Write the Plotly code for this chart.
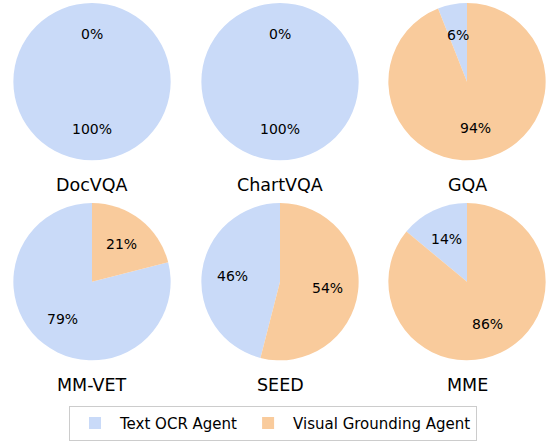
import math
import plotly.graph_objects as go

datasets = ["DocVQA", "ChartVQA", "GQA", "MM-VET", "SEED", "MME"]
agents = ["Text OCR Agent", "Visual Grounding Agent"]
text_ocr = [100, 100, 6, 79, 46, 14]
visual_grounding = [0, 0, 94, 21, 54, 86]
colors = ["#c9daf8", "#f9cb9c"]

W, H = 546, 441
R = 79
centers_x = [92, 280, 467]
centers_y = [82, 283]
title_y = [186, 387]

fig = go.Figure()
annotations = []
for i, name in enumerate(datasets):
    row, col = divmod(i, 3)
    cx, cy = centers_x[col], centers_y[row]
    vals = [text_ocr[i], visual_grounding[i]]
    total = sum(vals)
    # first slice runs counterclockwise from 12 o'clock (matplotlib style)
    rot = -360.0 * vals[0] / total
    fig.add_trace(go.Pie(
        labels=agents, values=vals, sort=False, direction="clockwise",
        rotation=rot, textinfo="none", hoverinfo="label+percent",
        marker=dict(colors=colors, line=dict(width=0)),
        domain=dict(x=[max(0, (cx - R) / W), min(1, (cx + R) / W)],
                    y=[max(0, 1 - (cy + R) / H), min(1, 1 - (cy - R) / H)]),
        showlegend=(i == 0),
    ))
    start = 90.0
    for v in vals:
        frac = v / total
        mid = math.radians(start + frac * 180)
        start += frac * 360
        lx = cx + 0.6 * R * math.cos(mid)
        ly = cy - 0.6 * R * math.sin(mid)
        annotations.append(dict(
            x=lx / W, y=1 - ly / H, xref="paper", yref="paper",
            text=f"{round(v)}%", showarrow=False,
            font=dict(size=14, color="#000"), xanchor="center", yanchor="middle"))
    annotations.append(dict(
        x=cx / W, y=1 - title_y[row] / H, xref="paper", yref="paper",
        text=name, showarrow=False, font=dict(size=17.5, color="#000"),
        xanchor="center", yanchor="middle"))

fig.update_layout(
    width=W, height=H, margin=dict(l=0, r=0, t=0, b=0),
    paper_bgcolor="white", plot_bgcolor="white",
    font=dict(family="DejaVu Sans", color="#000"),
    annotations=annotations,
    legend=dict(orientation="h", x=0.5, xanchor="center",
                y=-0.004, yanchor="bottom", itemwidth=40,
                bordercolor="#cccccc", borderwidth=1,
                font=dict(size=15)),
)
fig.write_html("out.html", post_script="document.body.style.margin='0px';",
               config={"displayModeBar": False})
